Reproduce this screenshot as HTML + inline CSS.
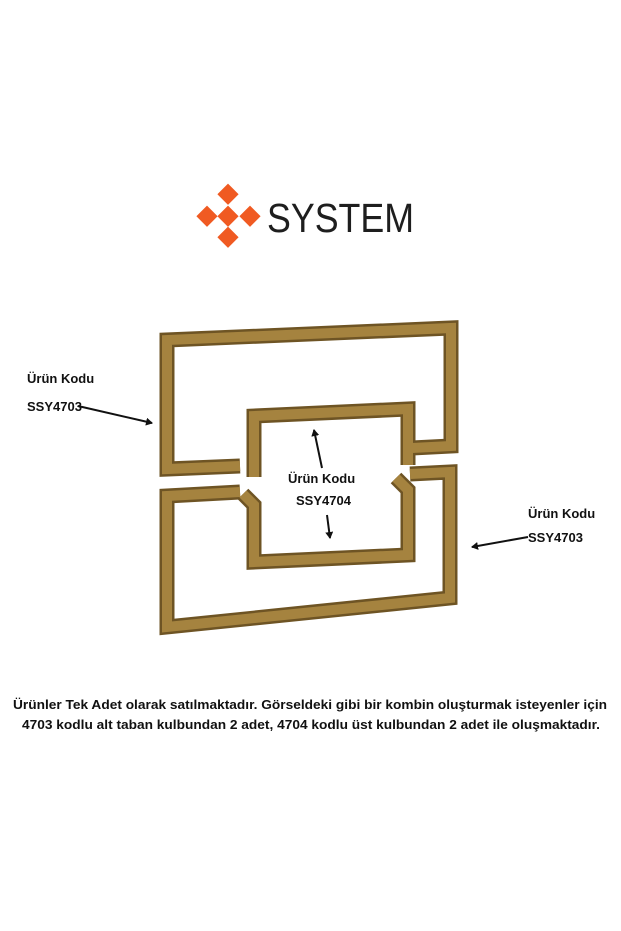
<!DOCTYPE html>
<html><head><meta charset="utf-8"><style>html,body{margin:0;padding:0;background:#fff}svg{display:block}</style></head>
<body>
<svg width="621" height="931" viewBox="0 0 621 931" xmlns="http://www.w3.org/2000/svg">
<defs>
<marker id="ah" markerWidth="8" markerHeight="8" refX="6" refY="4" orient="auto" markerUnits="userSpaceOnUse"><path d="M0,0 L7,4 L0,8 Z" fill="#111"/></marker>
</defs>
<rect width="621" height="931" fill="#fff"/>
<!-- logo -->
<g fill="#f05a22">
<rect x="220" y="187" width="15" height="15" transform="rotate(45 228 195)"/>
<rect x="220" y="209" width="15" height="15" transform="rotate(45 228 217)"/>
<rect x="199" y="209" width="15" height="15" transform="rotate(45 207 217)"/>
<rect x="242" y="209" width="15" height="15" transform="rotate(45 250 217)"/>
<rect x="220" y="230" width="15" height="15" transform="rotate(45 228 238)"/>
</g>
<text x="267" y="232" font-family="Liberation Sans, sans-serif" font-size="41" fill="#1e1e1e" textLength="147" lengthAdjust="spacingAndGlyphs">SYSTEM</text>
<!-- handles -->
<g fill="none" stroke-linejoin="miter" stroke-linecap="butt">
<g stroke="#6e5424" stroke-width="15">
<polyline points="240,466 167,469 167,340 451,328 451,446 412,448"/>
<polyline points="254,477 254,416 408,409 408,465"/>
<polyline points="240,492 167,496 167,627 450,598 450,472 410,474"/>
<polyline points="243,494 254,505 254,562 408,555 408,490 396,478"/>
</g>
<g stroke="#a5833f" stroke-width="10">
<polyline points="240,466 167,469 167,340 451,328 451,446 412,448"/>
<polyline points="254,477 254,416 408,409 408,465"/>
<polyline points="240,492 167,496 167,627 450,598 450,472 410,474"/>
<polyline points="243,494 254,505 254,562 408,555 408,490 396,478"/>
</g>
</g>
<!-- labels -->
<g font-family="Liberation Sans, sans-serif" font-weight="bold" font-size="13" fill="#111">
<text x="27" y="383">Ürün Kodu</text>
<text x="27" y="411">SSY4703</text>
<text x="528" y="518">Ürün Kodu</text>
<text x="528" y="542">SSY4703</text>
<text x="288" y="483">Ürün Kodu</text>
<text x="296" y="505">SSY4704</text>
</g>
<g stroke="#111" stroke-width="2" marker-end="url(#ah)">
<line x1="78" y1="406" x2="152" y2="423"/>
<line x1="528" y1="537" x2="472" y2="547"/>
<line x1="322" y1="468" x2="314" y2="430"/>
<line x1="327" y1="515" x2="330" y2="538"/>
</g>
<g font-family="Liberation Sans, sans-serif" font-weight="bold" font-size="13" fill="#111">
<text x="13" y="709" textLength="594" lengthAdjust="spacingAndGlyphs">Ürünler Tek Adet olarak satılmaktadır. Görseldeki gibi bir kombin oluşturmak isteyenler için</text>
<text x="22" y="729" textLength="578" lengthAdjust="spacingAndGlyphs">4703 kodlu alt taban kulbundan 2 adet, 4704 kodlu üst kulbundan 2 adet ile oluşmaktadır.</text>
</g>
</svg>
</body></html>
